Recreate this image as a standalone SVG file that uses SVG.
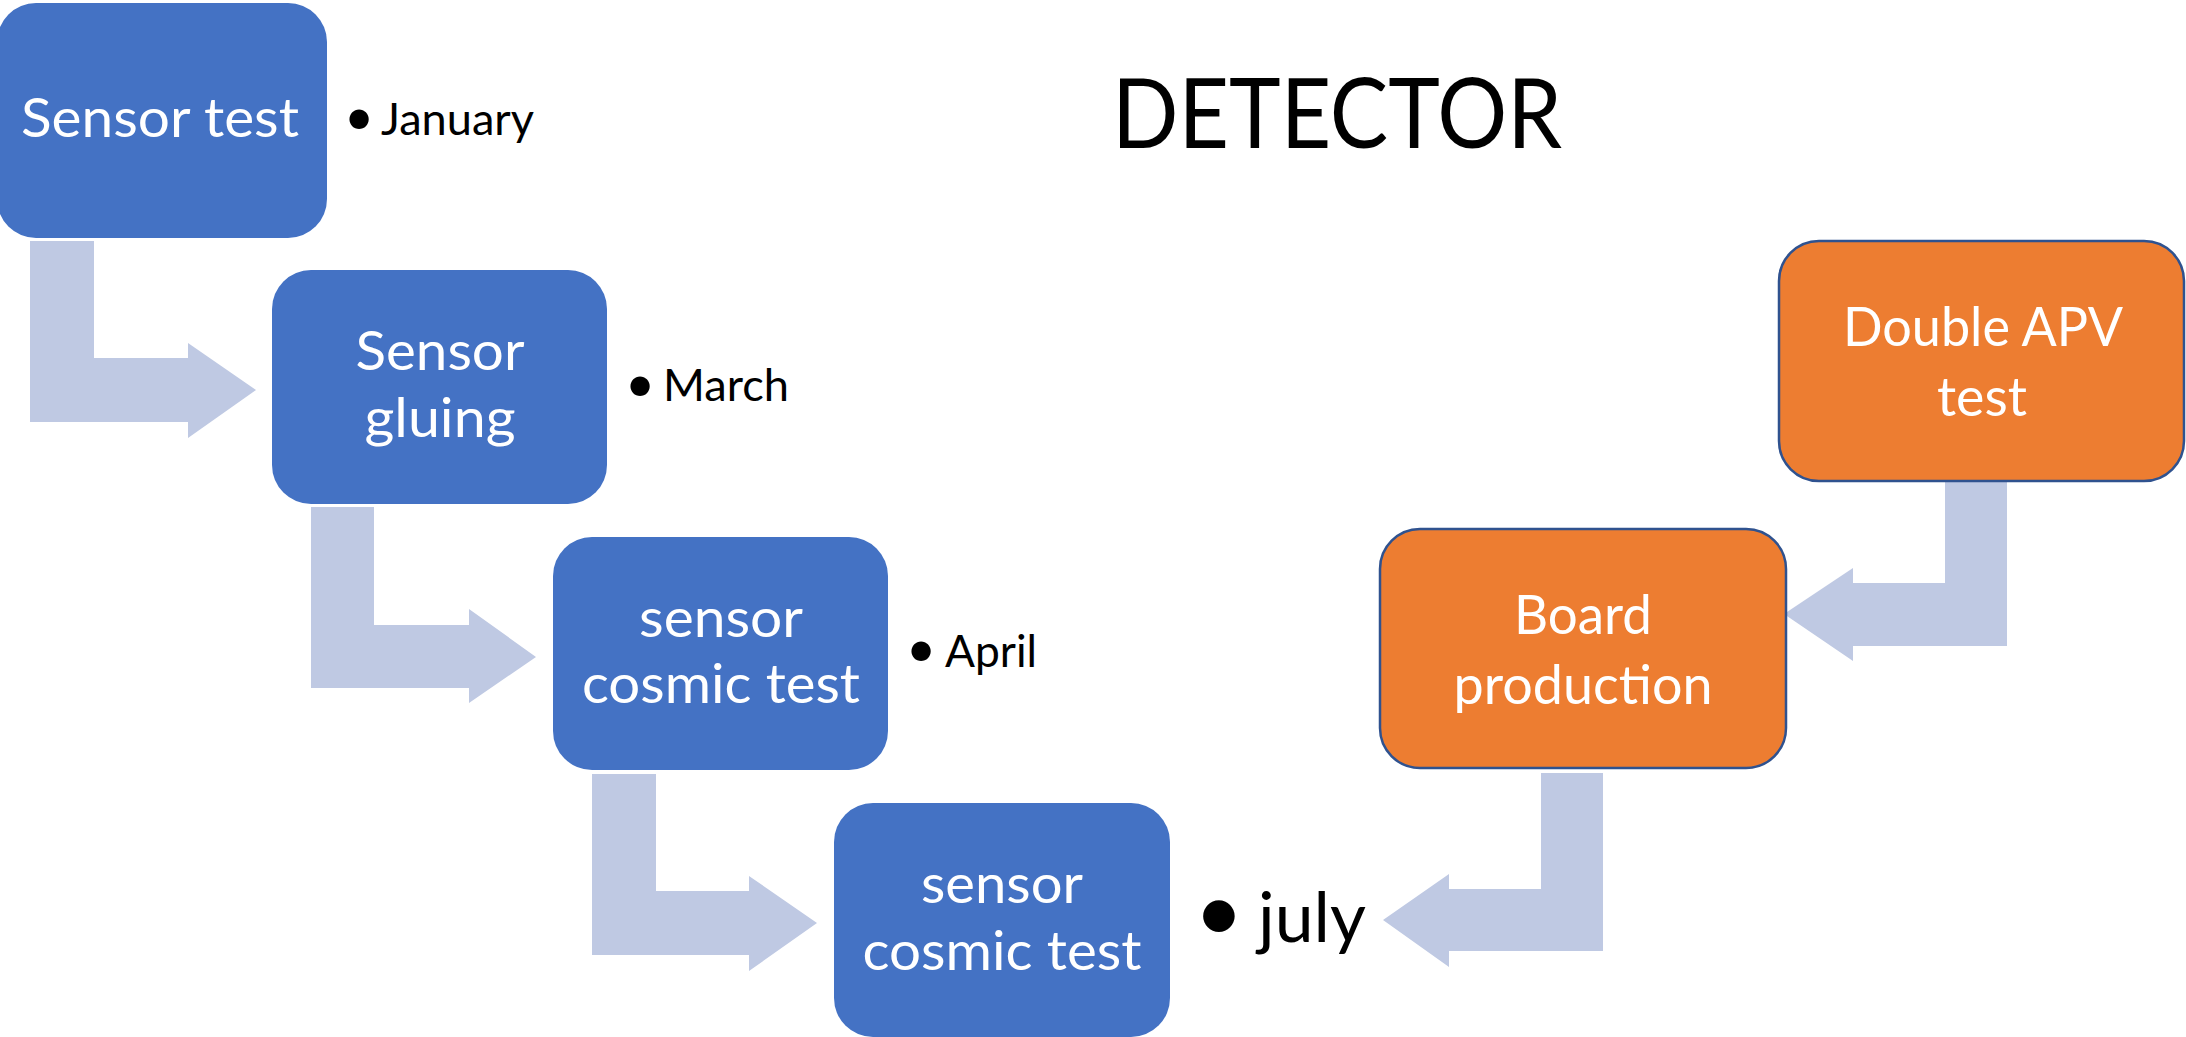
<svg xmlns="http://www.w3.org/2000/svg" width="2186" height="1037" viewBox="0 0 2186 1037">
  <style>
    .blue { fill: #4472C4; }
    .orange { fill: #ED7D31; stroke: #2F528F; stroke-width: 2.5; }
    .arrow { fill: #BFC9E3; }
    .ntext { font-family: Lato, "Open Sans", sans-serif; font-size: 55px; fill: #FFFFFF; text-anchor: middle; }
    .label { font-family: Lato, "Open Sans", sans-serif; font-size: 44px; fill: #000000; }
    .bullet { font-family: Lato, "Open Sans", sans-serif; font-size: 52px; fill: #000000; text-anchor: middle; }
    .title { font-family: Lato, "Open Sans", sans-serif; font-size: 96px; fill: #000000; text-anchor: middle; }
  </style>
  <rect width="2186" height="1037" fill="#FFFFFF"/>

  <text class="title" x="1337" y="148" textLength="450" lengthAdjust="spacingAndGlyphs">DETECTOR</text>

  <!-- bent arrows between steps -->
  <g id="connectors">
    <path class="arrow" d="M30,241 H94 V358 H188 V343 L256,390 L188,438 V422 H30 Z"/>
    <path class="arrow" d="M311,507 H374 V625 H469 V609 L536,657 L469,703 V688 H311 Z"/>
    <path class="arrow" d="M592,774 H656 V891 H749 V876 L817,923 L749,971 V955 H592 Z"/>
    <path class="arrow" d="M1945,482 H2007 V646 H1853 V661 L1784,614 L1853,568 V583 H1945 Z"/>
    <path class="arrow" d="M1541,773 H1603 V951 H1449 V967 L1383,920 L1449,874 V889 H1541 Z"/>
  </g>

  <g id="sensor-test">
    <rect class="blue" x="-3" y="3" width="330" height="235" rx="39"/>
    <text class="ntext" x="160" y="137" textLength="278" lengthAdjust="spacingAndGlyphs">Sensor test</text>
  </g>

  <g id="sensor-gluing">
    <rect class="blue" x="272" y="270" width="335" height="234" rx="39"/>
    <text class="ntext" x="440" y="370" textLength="169" lengthAdjust="spacingAndGlyphs">Sensor</text>
    <text class="ntext" x="440" y="437" textLength="151" lengthAdjust="spacingAndGlyphs">gluing</text>
  </g>

  <g id="sensor-cosmic-test-1">
    <rect class="blue" x="553" y="537" width="335" height="233" rx="39"/>
    <text class="ntext" x="721" y="637" textLength="164" lengthAdjust="spacingAndGlyphs">sensor</text>
    <text class="ntext" x="721" y="703" textLength="278" lengthAdjust="spacingAndGlyphs">cosmic test</text>
  </g>

  <g id="sensor-cosmic-test-2">
    <rect class="blue" x="834" y="803" width="336" height="234" rx="39"/>
    <text class="ntext" x="1002" y="903" textLength="162" lengthAdjust="spacingAndGlyphs">sensor</text>
    <text class="ntext" x="1002" y="970" textLength="279" lengthAdjust="spacingAndGlyphs">cosmic test</text>
  </g>

  <g id="double-apv-test">
    <rect class="orange" x="1779" y="241" width="405" height="240" rx="40"/>
    <text class="ntext" x="1983" y="346" textLength="280" lengthAdjust="spacingAndGlyphs">Double APV</text>
    <text class="ntext" x="1982" y="416" textLength="90" lengthAdjust="spacingAndGlyphs">test</text>
  </g>

  <g id="board-production">
    <rect class="orange" x="1380" y="529" width="406" height="239" rx="40"/>
    <text class="ntext" x="1583" y="634" textLength="138" lengthAdjust="spacingAndGlyphs">Board</text>
    <text class="ntext" x="1583" y="704" textLength="259" lengthAdjust="spacingAndGlyphs">production</text>
  </g>

  <!-- date bullets -->
  <g id="dates">
    <text class="bullet" x="359" y="135">•</text>
    <text class="label" x="381" y="135" textLength="153" lengthAdjust="spacingAndGlyphs">January</text>
    <text class="bullet" x="640" y="402">•</text>
    <text class="label" x="663" y="401" textLength="126" lengthAdjust="spacingAndGlyphs">March</text>
    <text class="bullet" x="921" y="667">•</text>
    <text class="label" x="945" y="667" textLength="92" lengthAdjust="spacingAndGlyphs">April</text>
    <text class="bullet" x="1219" y="942" style="font-size:85px">•</text>
    <text class="label" x="1258" y="942" style="font-size:70px" textLength="108" lengthAdjust="spacingAndGlyphs">july</text>
  </g>
</svg>
